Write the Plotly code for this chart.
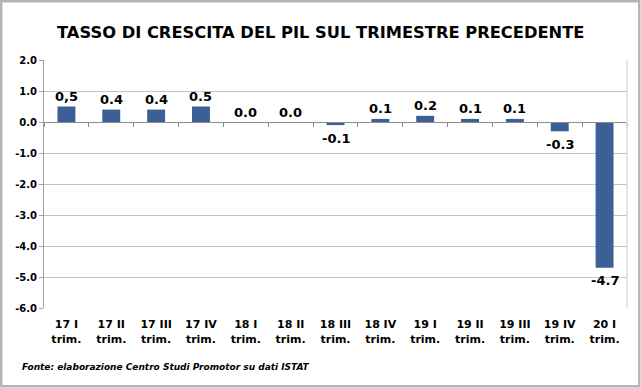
import plotly.graph_objects as go

categories = ["17 I<br>trim.", "17 II<br>trim.", "17 III<br>trim.", "17 IV<br>trim.",
              "18 I<br>trim.", "18 II<br>trim.", "18 III<br>trim.", "18 IV<br>trim.",
              "19 I<br>trim.", "19 II<br>trim.", "19 III<br>trim.", "19 IV<br>trim.",
              "20 I<br>trim."]
values = [0.5, 0.4, 0.4, 0.5, 0.0, 0.0, -0.1, 0.1, 0.2, 0.1, 0.1, -0.3, -4.7]
value_labels = ["0,5", "0.4", "0.4", "0.5", "0.0", "0.0", "-0.1", "0.1", "0.2", "0.1", "0.1", "-0.3", "-4.7"]
y_ticks = [2, 1, 0, -1, -2, -3, -4, -5, -6]

title_text = "TASSO DI CRESCITA DEL PIL SUL TRIMESTRE PRECEDENTE"
source_text = "Fonte: elaborazione Centro Studi Promotor su dati ISTAT"

FONT = "Verdana, DejaVu Sans, sans-serif"
W, H = 641, 388
L, R, T, B = 44, 14, 60, 80
pw, ph = W - L - R, H - T - B

def px(x):
    return (x - L) / pw

def py(y):
    return (H - B - y) / ph

fig = go.Figure()
fig.add_trace(go.Bar(x=categories, y=values, marker=dict(color="#3b6095", line=dict(width=0)),
                     xaxis="x", yaxis="y", hoverinfo="skip"))
# invisible trace to carry the secondary (zero-line) axis
fig.add_trace(go.Scatter(x=categories, y=[None] * len(categories), xaxis="x2", yaxis="y",
                         mode="markers", showlegend=False, hoverinfo="skip"))

annotations = []
for c, v, t in zip(categories, values, value_labels):
    annotations.append(dict(x=c, y=v, xref="x", yref="y", text="<b>%s</b>" % t, showarrow=False,
                            yshift=10 if v >= 0 else -13, yanchor="middle",
                            font=dict(family=FONT, size=13, color="#000000")))
annotations.append(dict(x=px(320.5), y=py(32), xref="paper", yref="paper", text="<b>%s</b>" % title_text,
                        showarrow=False, xanchor="center", yanchor="middle",
                        font=dict(family=FONT, size=16.3, color="#000000")))
annotations.append(dict(x=px(20), y=py(367), xref="paper", yref="paper",
                        text="<b><i>%s</i></b>" % source_text, showarrow=False,
                        xanchor="left", yanchor="middle",
                        font=dict(family=FONT, size=9, color="#000000")))

shapes = [
    dict(type="rect", xref="paper", yref="paper", x0=px(1.2), x1=px(639.3), y0=py(386.3), y1=py(1.2),
         line=dict(color="#b4b4b4", width=2.4), fillcolor="rgba(0,0,0,0)", layer="below"),
    dict(type="line", xref="paper", yref="paper", x0=1, x1=1, y0=0, y1=1,
         line=dict(color="#dcdcdc", width=1.5)),
]

fig.update_layout(
    width=W, height=H, margin=dict(l=L, r=R, t=T, b=B),
    paper_bgcolor="white", plot_bgcolor="white",
    showlegend=False, bargap=0.6,
    annotations=annotations, shapes=shapes,
    xaxis=dict(type="category", range=[-0.5, 12.5], showgrid=False, showline=False, zeroline=False,
               ticks="outside", ticklen=6, tickcolor="rgba(0,0,0,0)",
               tickfont=dict(family=FONT, size=11, color="#000000"), tickprefix="<b>", ticksuffix="</b>"),
    xaxis2=dict(type="category", overlaying="x", anchor="free", position=py(122), side="bottom",
                range=[-0.5, 12.5], showgrid=False, showline=True, linecolor="#8c8c8c", linewidth=1,
                ticks="outside", tickson="boundaries", ticklen=4, tickcolor="#8c8c8c",
                showticklabels=False, zeroline=False),
    yaxis=dict(range=[-6, 2], tickvals=y_ticks, ticktext=["<b>%.1f</b>" % v for v in y_ticks],
               showgrid=True, gridcolor="#c4c4c4", gridwidth=1, zeroline=False,
               showline=True, linecolor="#a0a0a0", linewidth=1,
               ticks="outside", ticklen=4, tickcolor="#a0a0a0",
               tickfont=dict(family=FONT, size=10, color="#000000")),
)

fig.write_html("out.html", config={"displayModeBar": False},
               post_script="document.body.style.margin='0';document.body.style.overflow='hidden';")
